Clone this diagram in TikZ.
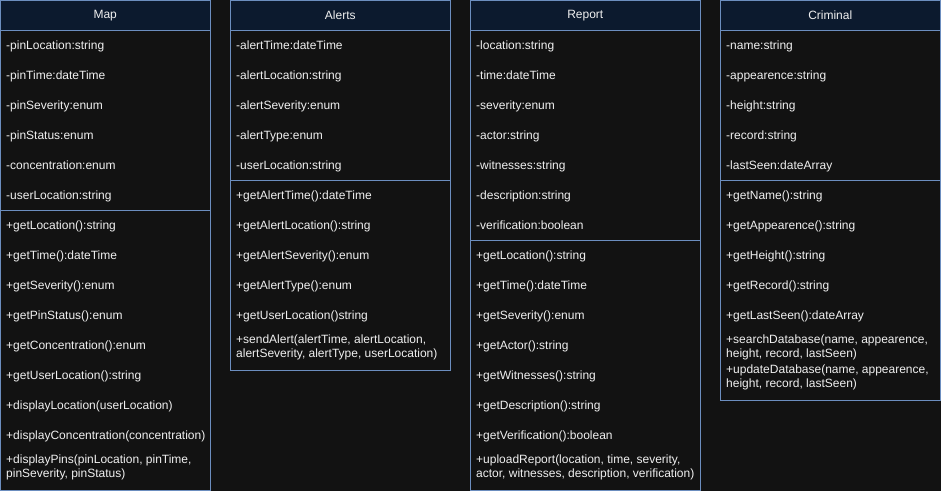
\documentclass[tikz,border=0pt]{standalone}
\usepackage{fontspec}
\setmainfont{Liberation Sans}
\definecolor{bgc}{HTML}{121212}
\definecolor{hdrc}{HTML}{0C1A2E}
\definecolor{bord}{HTML}{6C8EBF}
\definecolor{txt}{HTML}{F0F0F0}
\begin{document}
\begin{tikzpicture}[x=1pt,y=-1pt,
  classbox/.style={draw=bord, line width=1pt, fill=bgc, inner sep=0pt, outer sep=0pt, anchor=north west},
  hdrbox/.style={classbox, fill=hdrc, text=txt, font=\fontsize{12}{14}\selectfont},
  row/.style={anchor=base west, inner sep=0pt, text=txt, font=\fontsize{12}{14}\selectfont},
  mrow/.style={anchor=north west, inner sep=0pt, text=txt, align=left, font=\fontsize{12}{13.5}\selectfont},
  divline/.style={draw=bord, line width=1pt}]
\fill[bgc] (0,0) rectangle (941,491);
\useasboundingbox (0,0) rectangle (941,491);

% ---------------- Map ----------------
\node[classbox, minimum width=209.5pt, minimum height=489.5pt] (map) at (0.5,0.5) {};
\node[hdrbox, minimum width=209.5pt, minimum height=29.5pt] (maph) at (0.5,0.5) {Map};
\coordinate (mapdl) at (0.5,210);
\coordinate (mapdr) at (210,210);
\draw[divline] (mapdl) -- (mapdr);
\node[row] (map1) at (6,49) {-pinLocation:string};
\node[row] (map2) at (6,79) {-pinTime:dateTime};
\node[row] (map3) at (6,109) {-pinSeverity:enum};
\node[row] (map4) at (6,139) {-pinStatus:enum};
\node[row] (map5) at (6,169) {-concentration:enum};
\node[row] (map6) at (6,199) {-userLocation:string};
\node[row] (mapm1) at (6,229) {+getLocation():string};
\node[row] (mapm2) at (6,259) {+getTime():dateTime};
\node[row] (mapm3) at (6,289) {+getSeverity():enum};
\node[row] (mapm4) at (6,319) {+getPinStatus():enum};
\node[row] (mapm5) at (6,349) {+getConcentration():enum};
\node[row] (mapm6) at (6,379) {+getUserLocation():string};
\node[row] (mapm7) at (6,409) {+displayLocation(userLocation)};
\node[row] (mapm8) at (6,439) {+displayConcentration(concentration)};
\node[mrow] (mapm9) at (6,455) {+displayPins(pinLocation, pinTime,\\pinSeverity, pinStatus)};

% ---------------- Alerts ----------------
\node[classbox, minimum width=219.5pt, minimum height=369.5pt] (alerts) at (230.5,0.5) {};
\node[hdrbox, minimum width=219.5pt, minimum height=29.5pt] (alertsh) at (230.5,0.5) {Alerts};
\coordinate (aldl) at (230.5,180);
\coordinate (aldr) at (450,180);
\draw[divline] (aldl) -- (aldr);
\node[row] (al1) at (236,49) {-alertTime:dateTime};
\node[row] (al2) at (236,79) {-alertLocation:string};
\node[row] (al3) at (236,109) {-alertSeverity:enum};
\node[row] (al4) at (236,139) {-alertType:enum};
\node[row] (al5) at (236,169) {-userLocation:string};
\node[row] (alm1) at (236,199) {+getAlertTime():dateTime};
\node[row] (alm2) at (236,229) {+getAlertLocation():string};
\node[row] (alm3) at (236,259) {+getAlertSeverity():enum};
\node[row] (alm4) at (236,289) {+getAlertType():enum};
\node[row] (alm5) at (236,319) {+getUserLocation()string};
\node[mrow] (alm6) at (236,335) {+sendAlert(alertTime, alertLocation,\\alertSeverity, alertType, userLocation)};

% ---------------- Report ----------------
\node[classbox, minimum width=229.5pt, minimum height=489.5pt] (report) at (470.5,0.5) {};
\node[hdrbox, minimum width=229.5pt, minimum height=29.5pt] (reporth) at (470.5,0.5) {Report};
\coordinate (rdl) at (470.5,240);
\coordinate (rdr) at (700,240);
\draw[divline] (rdl) -- (rdr);
\node[row] (r1) at (476,49) {-location:string};
\node[row] (r2) at (476,79) {-time:dateTime};
\node[row] (r3) at (476,109) {-severity:enum};
\node[row] (r4) at (476,139) {-actor:string};
\node[row] (r5) at (476,169) {-witnesses:string};
\node[row] (r6) at (476,199) {-description:string};
\node[row] (r7) at (476,229) {-verification:boolean};
\node[row] (rm1) at (476,259) {+getLocation():string};
\node[row] (rm2) at (476,289) {+getTime():dateTime};
\node[row] (rm3) at (476,319) {+getSeverity():enum};
\node[row] (rm4) at (476,349) {+getActor():string};
\node[row] (rm5) at (476,379) {+getWitnesses():string};
\node[row] (rm6) at (476,409) {+getDescription():string};
\node[row] (rm7) at (476,439) {+getVerification():boolean};
\node[mrow] (rm8) at (476,455) {+uploadReport(location, time, severity,\\actor, witnesses, description, verification)};

% ---------------- Criminal ----------------
\node[classbox, minimum width=219.5pt, minimum height=399.5pt] (crim) at (720.5,0.5) {};
\node[hdrbox, minimum width=219.5pt, minimum height=29.5pt] (crimh) at (720.5,0.5) {Criminal};
\coordinate (cdl) at (720.5,180);
\coordinate (cdr) at (940,180);
\draw[divline] (cdl) -- (cdr);
\node[row] (c1) at (726,49) {-name:string};
\node[row] (c2) at (726,79) {-appearence:string};
\node[row] (c3) at (726,109) {-height:string};
\node[row] (c4) at (726,139) {-record:string};
\node[row] (c5) at (726,169) {-lastSeen:dateArray};
\node[row] (cm1) at (726,199) {+getName():string};
\node[row] (cm2) at (726,229) {+getAppearence():string};
\node[row] (cm3) at (726,259) {+getHeight():string};
\node[row] (cm4) at (726,289) {+getRecord():string};
\node[row] (cm5) at (726,319) {+getLastSeen():dateArray};
\node[mrow] (cm6) at (726,335) {+searchDatabase(name, appearence,\\height, record, lastSeen)};
\node[mrow] (cm7) at (726,365) {+updateDatabase(name, appearence,\\height, record, lastSeen)};
\end{tikzpicture}
\end{document}
